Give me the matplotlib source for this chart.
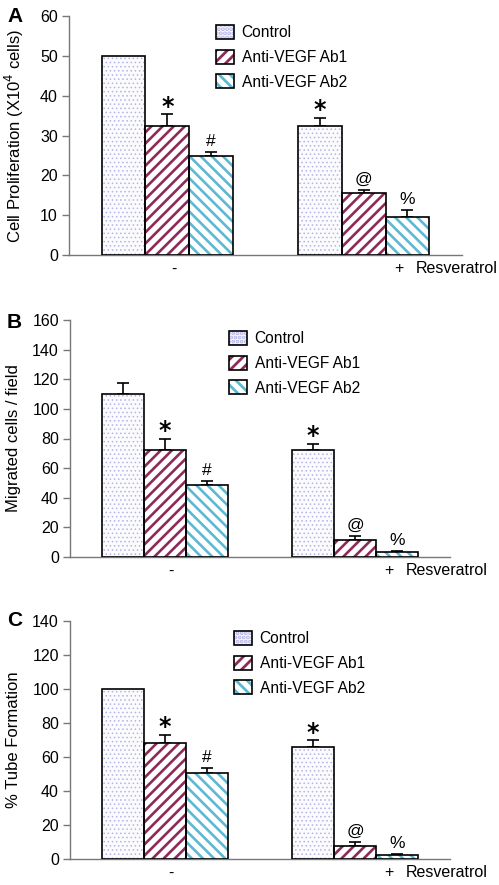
import matplotlib
matplotlib.use('Agg')
import matplotlib.pyplot as plt
from matplotlib.patches import Patch
from matplotlib.legend_handler import HandlerTuple
import numpy as np

plt.rcParams['font.family'] = ['Liberation Sans', 'DejaVu Sans']
plt.rcParams['hatch.linewidth'] = 2.0

# ---------------- data ----------------
series = ['Control', 'Anti-VEGF Ab1', 'Anti-VEGF Ab2']
group_labels = ['-', '+']
annot_minus = ['', '*', '#']
annot_plus = ['*', '@', '%']

# Panel A: Cell proliferation
A_minus = [50.0, 32.5, 24.9]
A_minus_err = [0.0, 2.8, 0.9]
A_plus = [32.5, 15.5, 9.6]
A_plus_err = [1.9, 0.9, 1.7]

# Panel B: Migration
B_minus = [110.0, 72.5, 48.5]
B_minus_err = [7.8, 7.5, 2.8]
B_plus = [72.5, 11.5, 3.3]
B_plus_err = [3.8, 2.8, 0.8]

# Panel C: Tube formation
C_minus = [100.0, 68.3, 50.4]
C_minus_err = [0.0, 4.8, 3.4]
C_plus = [66.0, 7.8, 2.2]
C_plus_err = [3.8, 2.4, 0.7]

# ---------------- style ----------------
faces = ['#FBFBFE', 'white', 'white']
hatch_cols = ['#B4B4E2', '#8E2A58', '#5DB9D3']
hatches = ['....', '///', '\\\\\\']
hatch_lws = [0.6, 1.9, 1.9]
W, H = 499, 885

fig = plt.figure(figsize=(W / 100, H / 100), dpi=100)


def rect(l, r, b, t):
    return [l / W, 1 - b / H, (r - l) / W, (b - t) / H]


panels = [
    dict(letter='A', rect=rect(69, 462, 255, 16), ylim=60, step=10,
         ylabel='Cell Proliferation (X10$^4$ cells)',
         vals=[A_minus, A_plus], errs=[A_minus_err, A_plus_err],
         leg=(216, 25), letter_y=16),
    dict(letter='B', rect=rect(70, 450, 557, 320), ylim=160, step=20,
         ylabel='Migrated cells / field',
         vals=[B_minus, B_plus], errs=[B_minus_err, B_plus_err],
         leg=(229, 331), letter_y=322),
    dict(letter='C', rect=rect(70, 450, 859, 621), ylim=140, step=20,
         ylabel='% Tube Formation',
         vals=[C_minus, C_plus], errs=[C_minus_err, C_plus_err],
         leg=(234, 631), letter_y=621),
]

centers = np.array([2.25, 6.75])
annots = [annot_minus, annot_plus]

for p in panels:
    ax = fig.add_axes(p['rect'])
    ax.set_xlim(0, 9.0)
    ax.set_ylim(0, p['ylim'])
    vals = np.array(p['vals'])
    errs = np.array(p['errs'])
    for i in range(3):
        x = centers + (i - 1)
        with plt.rc_context({'hatch.linewidth': hatch_lws[i]}):
            ax.bar(x, vals[:, i], width=1, color=faces[i],
                   edgecolor=hatch_cols[i], hatch=hatches[i], linewidth=0,
                   zorder=2)
        ax.bar(x, vals[:, i], width=1, fill=False, edgecolor='black',
               linewidth=1.2, zorder=3)
        m = errs[:, i] > 0
        ax.errorbar(x[m], vals[m, i], yerr=[np.zeros(m.sum()), errs[m, i]],
                    fmt='none', ecolor='black', elinewidth=1.2, capsize=4,
                    capthick=1.2, zorder=1)
        for g in range(2):
            s = annots[g][i]
            if s:
                top = vals[g, i] + errs[g, i]
                if s == '*':
                    ax.annotate(s, (x[g], top), xytext=(0, -3),
                                textcoords='offset points', ha='center',
                                va='bottom', fontsize=17, fontweight='bold',
                                family='DejaVu Sans')
                else:
                    ax.annotate(s, (x[g], top), xytext=(0, 2),
                                textcoords='offset points', ha='center',
                                va='bottom', fontsize=12.5)
    for s in ['top', 'right']:
        ax.spines[s].set_visible(False)
    for s in ['left', 'bottom']:
        ax.spines[s].set_color('#777777')
        ax.spines[s].set_linewidth(1.0)
    ax.set_yticks(np.arange(0, p['ylim'] + 1, p['step']))
    ax.tick_params(axis='y', direction='out', length=5, width=1,
                   color='#777777', labelsize=11.5, pad=3)
    ax.set_xticks([])
    # group labels
    ax.annotate(group_labels[0], (centers[0] + 0.15, 0),
                xycoords=('data', 'axes fraction'), xytext=(0, -10),
                textcoords='offset points', ha='center', va='center', fontsize=11.5)
    ax.annotate(group_labels[1], (centers[1] + 0.8, 0),
                xycoords=('data', 'axes fraction'), xytext=(0, -10),
                textcoords='offset points', ha='center', va='center', fontsize=11.5)
    ax.annotate('Resveratrol', (centers[1] + 1.2, 0),
                xycoords=('data', 'axes fraction'), xytext=(0, -10),
                textcoords='offset points', ha='left', va='center', fontsize=11.5,
                annotation_clip=False)
    # y label
    l, b, w, h = p['rect']
    fig.text(14 / W, b + h / 2, p['ylabel'], rotation=90, ha='center',
             va='center', fontsize=12)
    fig.text(7 / W, 1 - p['letter_y'] / H, p['letter'], ha='left',
             va='center', fontsize=15, fontweight='bold')
    # legend
    handles = []
    for i in range(3):
        with plt.rc_context({'hatch.linewidth': hatch_lws[i]}):
            h1 = Patch(facecolor=faces[i], edgecolor=hatch_cols[i],
                       hatch=hatches[i], linewidth=0)
        h2 = Patch(fill=False, edgecolor='black', linewidth=1.2)
        handles.append((h1, h2))
    lx, ly = p['leg']
    fig.legend(handles, series, loc='upper left',
               bbox_to_anchor=(lx / W, 1 - ly / H), frameon=False,
               fontsize=11.2, handlelength=1.15, handleheight=1.0,
               handletextpad=0.5, labelspacing=0.6, borderpad=0,
               borderaxespad=0,
               handler_map={tuple: HandlerTuple(ndivide=1, pad=0)})

fig.savefig('out.png', dpi=100)
